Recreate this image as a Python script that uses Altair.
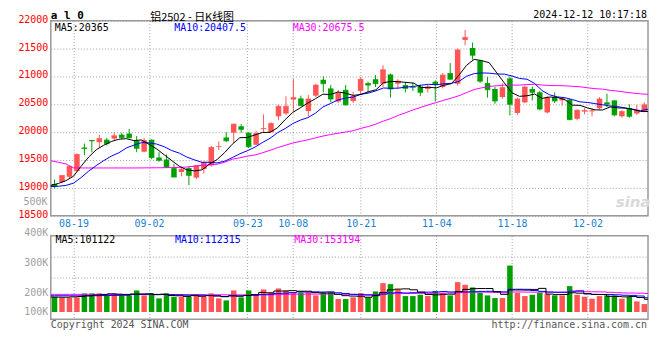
import altair as alt
import pandas as pd

# ---------------- data ----------------
dates = ["08-14","08-15","08-16","08-19","08-20","08-21","08-22","08-23","08-26","08-27","08-28","08-29","08-30",
         "09-02","09-03","09-04","09-05","09-06","09-09","09-10","09-11","09-12","09-13","09-18","09-19","09-20",
         "09-23","09-24","09-25","09-26","09-27","09-30",
         "10-08","10-09","10-10","10-11","10-14","10-15","10-16","10-17","10-18","10-21","10-22","10-23","10-24","10-25",
         "10-28","10-29","10-30","10-31",
         "11-01","11-04","11-05","11-06","11-07","11-08","11-11","11-12","11-13","11-14","11-15","11-18","11-19","11-20",
         "11-21","11-22","11-25","11-26","11-27","11-28","11-29",
         "12-02","12-03","12-04","12-05","12-06","12-09","12-10","12-11","12-12"]

opens = [19070,19105,19200,19305,19725,19860,19820,19865,19885,19955,
         19975,19850,19650,19865,19545,19510,19355,19285,19355,19185,
         19340,19405,19735,19905,19990,20105,19990,19775,20055,20000,
         20285,20335,20585,20605,20380,20655,20940,20785,20550,20760,
         20560,20740,20880,20950,20870,21035,20870,20845,20815,20820,
         20775,20905,20810,21060,20870,21655,21510,21285,20880,20775,
         20630,20965,20345,20535,20775,20715,20355,20630,20570,20585,
         20240,20370,20375,20430,20535,20570,20285,20430,20335,20380]
highs = [19150,19230,19395,19620,19795,19862,19950,19900,20000,19990,
         20060,19930,19900,19870,19640,19600,19430,19380,19385,19410,
         19470,19750,19835,20000,20150,20145,19995,20025,20320,20180,
         20490,20645,20950,20655,20665,20870,21000,20845,20760,20845,
         20725,20990,20905,21025,21200,21050,20950,20895,20890,20855,
         20845,20930,21060,21240,21500,21835,21610,21300,20990,20810,
         20880,21000,20620,20835,20820,20740,20655,20715,20630,20595,
         20405,20430,20430,20630,20690,20575,20395,20500,20490,20535]
lows = [18990,19090,19170,19285,19585,19640,19720,19760,19840,19875,
        19890,19640,19640,19515,19470,19360,19190,19210,19050,19160,
        19260,19380,19680,19820,19810,19990,19715,19770,20000,19995,
        20215,20310,20370,20470,20285,20630,20715,20535,20525,20475,
        20525,20665,20700,20810,20810,20620,20775,20715,20740,20645,
        20715,20550,20785,20940,20835,21560,21300,20880,20620,20510,
        20605,20300,20310,20520,20570,20390,20335,20525,20475,20215,
        20215,20320,20285,20405,20450,20285,20260,20260,20310,20355]
closes = [19025,19222,19387,19600,19705,19845,19885,19795,19935,19905,
          19900,19710,19850,19545,19495,19370,19195,19335,19225,19400,
          19460,19726,19740,19845,20145,20050,19740,19975,20065,20155,
          20465,20465,20620,20475,20595,20845,20870,20595,20700,20490,
          20645,20950,20845,20870,21120,20775,20915,20785,20805,20715,
          20810,20855,21025,20950,21475,21700,21380,20915,20760,20560,
          20800,20500,20595,20810,20715,20415,20620,20560,20605,20225,
          20395,20390,20385,20595,20500,20310,20370,20285,20395,20490]

ma5 = [19045,19080,19130,19210,19388,19552,19684,19766,19833,19873,
       19884,19849,19860,19782,19700,19594,19491,19388,19324,19305,
       19323,19429,19510,19634,19783,19901,19904,19951,19995,19997,
       20080,20225,20354,20436,20524,20600,20681,20676,20721,20700,
       20660,20676,20726,20760,20886,20912,20905,20893,20880,20799,
       20806,20794,20842,20871,21023,21201,21306,21284,21246,21063,
       20883,20707,20643,20653,20684,20607,20631,20624,20583,20485,
       20481,20435,20400,20398,20453,20436,20432,20412,20372,20370]
ma10 = [19025,19030,19045,19085,19185,19300,19400,19490,19570,19630,
        19718,19767,19813,19808,19787,19739,19670,19624,19553,19503,
        19459,19460,19449,19479,19544,19612,19667,19731,19815,19890,
        19991,20065,20153,20216,20261,20340,20453,20515,20579,20612,
        20630,20679,20701,20741,20793,20786,20791,20810,20820,20843,
        20859,20850,20868,20876,20911,21004,21050,21063,21059,21043,
        21042,21007,20964,20950,20874,20745,20669,20634,20618,20585,
        20544,20533,20512,20491,20469,20459,20434,20406,20385,20412]
ma30 = [19488,19460,19430,19360,19358,19358,19358,19358,19358,19358,
        19358,19358,19359,19360,19361,19363,19365,19368,19375,19390,
        19405,19415,19425,19460,19515,19540,19570,19590,19630,19674,
        19722,19764,19805,19834,19864,19897,19930,19957,19982,20002,
        20026,20068,20101,20145,20199,20246,20303,20352,20404,20448,
        20493,20531,20574,20611,20655,20710,20765,20796,20819,20833,
        20844,20845,20844,20855,20859,20845,20837,20835,20832,20823,
        20815,20796,20781,20772,20751,20736,20718,20701,20687,20680]

# volume, in thousands
vol_k = [121.2,115.9,113.3,115.9,147.6,147.6,147.6,131.8,147.6,131.8,
         131.8,171.3,131.8,147.6,108.0,147.6,121.2,121.2,121.2,139.7,
         121.2,147.6,108.0,92.2,171.3,115.9,171.3,139.7,179.2,155.5,
         187.1,171.3,155.5,155.5,155.5,131.8,155.5,155.5,102.8,102.8,
         115.9,150.2,115.9,163.4,229.2,221.3,179.2,126.5,126.5,137.0,
         126.5,166.0,147.6,131.8,237.2,216.1,195.0,152.8,131.8,110.7,
         110.7,368.9,152.8,126.5,137.0,152.8,142.3,131.8,131.8,205.5,
         137.0,121.2,105.4,126.5,131.8,131.8,105.4,121.2,84.3,63.2]
vma5 = [118.6,118.0,117.5,120.0,122.8,128.1,134.4,138.1,144.4,141.3,
        138.1,142.9,142.9,142.9,138.1,141.3,131.2,129.1,123.8,130.2,
        124.9,130.2,127.5,121.7,128.1,127.0,131.7,138.1,155.5,152.3,
        166.6,166.6,169.7,165.0,165.0,153.9,150.8,150.8,140.2,129.7,
        126.5,125.4,117.5,129.6,154.9,176.0,181.8,183.9,176.5,158.1,
        139.1,136.5,140.7,141.8,161.8,179.7,185.5,186.6,186.6,161.3,
        140.2,175.0,175.0,173.9,179.2,187.6,142.3,138.1,139.1,152.8,
        149.7,145.5,140.2,139.1,124.4,123.3,120.2,123.3,114.9,101.2]
vma10 = [129.0,129.0,129.0,128.5,128.5,129.0,129.5,130.5,131.5,132.0,
         133.1,138.6,140.5,143.7,139.7,139.7,137.1,136.0,133.4,134.1,
         133.1,130.7,128.3,122.8,129.1,126.0,131.0,132.8,138.6,140.2,
         146.8,149.2,153.9,160.2,158.7,160.2,158.7,160.2,152.6,147.3,
         140.2,138.1,134.1,134.9,142.3,151.3,153.6,150.7,153.1,156.5,
         157.6,159.2,162.3,159.2,160.0,159.4,161.0,163.7,164.2,161.6,
         160.0,180.3,180.8,180.3,170.2,163.9,158.6,156.5,156.5,166.0,
         168.6,143.9,139.1,139.1,138.6,136.5,132.8,131.8,127.0,112.8]
vma30 = [140.0,140.0,140.0,140.0,140.0,140.0,140.0,140.0,140.0,140.0,
         140.0,140.0,140.0,138.0,138.0,138.0,138.0,138.0,138.0,138.0,
         138.0,137.0,137.0,136.5,136.5,136.0,136.0,135.5,135.5,135.5,
         137.7,139.5,140.9,142.2,142.5,142.0,142.2,143.0,141.5,140.6,
         140.0,139.3,138.8,139.3,143.4,145.8,147.7,147.9,148.1,148.0,
         148.2,148.8,150.1,151.4,153.6,157.0,157.8,158.2,156.6,155.1,
         152.6,159.2,159.1,158.1,157.5,158.2,157.8,157.0,157.9,161.4,
         162.1,161.1,160.7,159.5,156.3,153.3,150.8,150.6,149.2,146.8]

tick_labels = ["08-19", "09-02", "09-23", "10-08", "10-21", "11-04", "11-18", "12-02"]
price_ticks = [18500, 19000, 19500, 20000, 20500, 21000, 21500, 22000]
vol_tick_labels = ["500K", "400K", "300K", "200K", "100K"]

header_code = "a l 0"
header_title = "铝2502 - 日K线图"
header_time = "2024-12-12 10:17:18"
ma_texts = ["MA5:20365", "MA10:20407.5", "MA30:20675.5"]
vma_texts = ["MA5:101122", "MA10:112315", "MA30:153194"]
copyright_text = "Copyright 2024 SINA.COM"
url_text = "http://finance.sina.com.cn"

# ---------------- styling ----------------
RED = "#FF5555"
GREEN = "#00A000"
MONO = "DejaVu Sans Mono"
CJK = "Noto Sans CJK SC"
GRID = "#A0A0A0"
VLABEL = "#A0A0A0"
MA_COLORS = ["#000000", "#0000FF", "#FF00FF"]

n = len(dates)
df = pd.DataFrame({
    "i": list(range(n)), "date": dates,
    "open": opens, "high": highs, "low": lows, "close": closes,
    "vol": vol_k, "ma5": ma5, "ma10": ma10, "ma30": ma30,
    "vma5": vma5, "vma10": vma10, "vma30": vma30,
})
df["dir"] = ["up" if c >= o else "down" for o, c in zip(opens, closes)]

# line vertices span the full width (first at left edge, last at right edge)
line_pos = f"datum.i * {n} / {n - 1} - 0.5"
tick_idx = [dates.index(d) for d in tick_labels]
tick_pos = [k * n / (n - 1) - 0.5 for k in tick_idx]
dates_js = "[" + ",".join("'%s'" % d for d in dates) + "]"
x_label_expr = f"{dates_js}[round((datum.value + 0.5) * {n - 1} / {n})]"

xscale = alt.Scale(domain=[-0.5, n - 0.5], nice=False, zero=False, padding=0)
x_axis_main = alt.Axis(values=tick_pos, labelExpr=x_label_expr, labelColor="#1E7FD0",
                       grid=True, labelPadding=3, labelFlush=False, labelOverlap=False, title=None)
x_axis_vol = alt.Axis(values=tick_pos, labels=False, grid=True, title=None)

yscale = alt.Scale(domain=[price_ticks[0], price_ticks[-1]], nice=False, zero=False, padding=0)
y_axis = alt.Axis(values=price_ticks, format="d", grid=True, labelColor="#FF0000",
                  labelPadding=3, labelOffset=-1.5, labelOverlap=False, title=None)

# volume axis: Sina puts its labels at fixed slots; grid at quarter lines
vol_slots = [606, 393, 155, 5]
vol_expr = " : ".join(f"datum.value == {v} ? '{t}'" for v, t in zip(vol_slots, vol_tick_labels[1:])) + " : ''"
vscale = alt.Scale(domain=[-58, 606], nice=False, zero=False, padding=0)
v_axis = alt.Axis(values=[606, 440, 393, 274, 155, 5], labelExpr=vol_expr, labelColor=VLABEL,
                  grid=True, labelPadding=3, labelOverlap=False, labelFlush=False, title=None,
                  gridOpacity={"condition": {"test": "datum.value == 440 || datum.value == 274", "value": 1},
                               "value": 0},
                  labelBaseline={"condition": {"test": "datum.value == 606", "value": "alphabetic"},
                                 "value": "middle"})

color = alt.Color("dir:N", scale=alt.Scale(domain=["up", "down"], range=[RED, GREEN]), legend=None)
base = alt.Chart(df)
X = alt.X("i:Q", scale=xscale, axis=x_axis_main)
XL = alt.X("mpos:Q", scale=xscale, axis=x_axis_main)
XV = alt.X("i:Q", scale=xscale, axis=x_axis_vol)
XVL = alt.X("mpos:Q", scale=xscale, axis=x_axis_vol)


def txt(s, x, y, color="#000000", size=10, font=MONO, align="left", baseline="middle",
        weight="normal", style="normal"):
    return alt.Chart(pd.DataFrame({"t": [s]})).mark_text(
        align=align, baseline=baseline, font=font, fontSize=size, fontWeight=weight,
        fontStyle=style, color=color
    ).encode(x=alt.value(x), y=alt.value(y), text="t:N")


wick = base.mark_rule(strokeWidth=1).encode(
    x=X, y=alt.Y("low:Q", scale=yscale, axis=y_axis), y2="high:Q", color=color)
body = base.mark_bar(size=5.5).encode(
    x=X, y=alt.Y("open:Q", scale=yscale, axis=y_axis), y2="close:Q", color=color)
ctick = base.mark_tick(orient="horizontal", size=5.5, thickness=1).encode(
    x=X, y=alt.Y("close:Q", scale=yscale, axis=y_axis), color=color)

price_lines = [
    base.transform_calculate(mpos=line_pos).mark_line(strokeWidth=1, color=c).encode(
        x=XL, y=alt.Y(f"{f}:Q", scale=yscale, axis=y_axis))
    for f, c in zip(["ma30", "ma10", "ma5"], MA_COLORS[::-1])
]

main_texts = [
    txt(header_code, 0, -10.5, size=11, weight="bold", baseline="top"),
    txt(header_title, 142, -8.5, size=11, font=CJK, align="center", baseline="top"),
    txt(header_time, 599, -10.5, align="right", baseline="top"),
    txt(ma_texts[0], 4, 7.5, color=MA_COLORS[0]),
    txt(ma_texts[1], 124, 7.5, color=MA_COLORS[1]),
    txt(ma_texts[2], 243, 7.5, color=MA_COLORS[2]),
    # the volume panel's top scale label sits in the price panel's label column
    txt(vol_tick_labels[0], -3.3, 182.2, color=VLABEL, align="right"),
    txt("sina", 585, 182, color="#D9D9D9", size=15, font="DejaVu Sans", align="center",
        weight="bold", style="italic"),
]

main = alt.layer(wick, body, ctick, *price_lines, *main_texts).properties(width=600, height=196)

vbars = base.mark_bar(size=5.5).encode(
    x=XV, y=alt.Y("vol:Q", scale=vscale, axis=v_axis), y2=alt.datum(0), color=color)
vol_lines = [
    base.transform_calculate(mpos=line_pos).mark_line(strokeWidth=1, color=c, interpolate="step").encode(
        x=XVL, y=alt.Y(f"{f}:Q", scale=vscale, axis=v_axis))
    for f, c in zip(["vma30", "vma10", "vma5"], MA_COLORS[::-1])
]
vol_texts = [
    txt(vma_texts[0], 4.7, 4.3, color=MA_COLORS[0]),
    txt(vma_texts[1], 124.7, 4.3, color=MA_COLORS[1]),
    txt(vma_texts[2], 244.7, 4.3, color=MA_COLORS[2]),
    txt(copyright_text, 0, 89.5, color="#555555"),
    txt(url_text, 599, 89.5, color="#555555", align="right"),
]
vol = alt.layer(vbars, *vol_lines, *vol_texts).properties(width=600, height=84)

chart = alt.vconcat(main, vol, spacing=20, bounds="flush").configure_view(
    stroke="#999999", strokeWidth=1.5
).configure_axis(
    labelFont=MONO, labelFontSize=10, ticks=False, domain=False,
    gridDash=[1, 2], gridColor=GRID, gridWidth=1
).properties(
    padding={"left": 9, "top": 0, "right": 0, "bottom": 0}, background="white"
)

chart.save("out.html", embed_options={"renderer": "svg", "actions": False})
